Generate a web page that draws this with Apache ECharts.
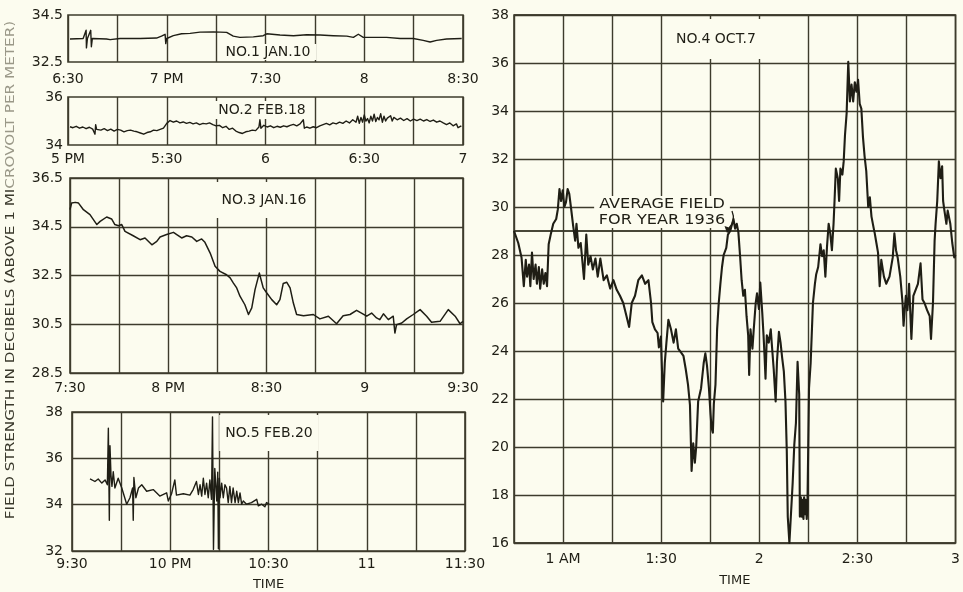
<!DOCTYPE html>
<html>
<head>
<meta charset="utf-8">
<script src="https://cdn.jsdelivr.net/npm/echarts@6/dist/echarts.min.js"></script>
<style>
  html, body { margin: 0; padding: 0; background: #fcfcef; }
  #chart { width: 963px; height: 592px; }
</style>
</head>
<body>
<div id="chart"></div>
<script>
// Field-strength recordings, time in minutes from the left edge of each strip.
const no1Ticks = ['6:30', '7 PM', '7:30', '8', '8:30'];
const no2Ticks = ['5 PM', '5:30', '6', '6:30', '7'];
const no3Ticks = ['7:30', '8 PM', '8:30', '9', '9:30'];
const no5Ticks = ['9:30', '10 PM', '10:30', '11', '11:30'];
// No. 4 starts at 12:45 AM; labelled every half hour from 1 AM
const no4Ticks = ['1 AM', '1:30', '2', '2:30', '3'];

// Average field for the year 1936, across the whole No. 4 strip
const average1936 = [[0, 29.0], [135, 29.0]];

const no1Jan10 = [
  [0.6,33.48],[4.6,33.5],[5.5,33.85],[5.6,33.1],[5.9,33.5],[6.9,33.85],[7.1,33.15],[7.4,33.5],
  [11.7,33.48],[12.8,33.45],[15.8,33.5],[21.9,33.5],[26.9,33.52],[28.4,33.6],[29.5,33.68],
  [29.7,33.28],[30,33.5],[32,33.62],[34.5,33.7],[37.1,33.72],[40.1,33.77],[44.2,33.78],
  [48.2,33.76],[50.2,33.6],[52.2,33.55],[56.3,33.57],[59.3,33.62],[60.4,33.7],[64.4,33.65],
  [68.5,33.62],[72.5,33.66],[76.6,33.65],[80.6,33.62],[84.7,33.6],[86.7,33.55],[88.2,33.68],
  [89.7,33.55],[92.8,33.55],[96.8,33.55],[100.9,33.5],[104.9,33.5],[107.9,33.42],[110,33.35],
  [112,33.42],[115,33.48],[119.6,33.5]
];

const no2Feb18 = [
  [0.6,34.76],[1.5,34.72],[2.5,34.78],[3.5,34.7],[4.5,34.75],[5.5,34.68],[6.5,34.74],[7.5,34.66],
  [8.2,34.45],[8.4,34.85],[8.7,34.65],[10,34.62],[11,34.68],[12,34.6],[13,34.66],[14,34.58],
  [15,34.65],[16,34.62],[17,34.55],[18,34.6],[19,34.62],[20,34.58],[21,34.55],[22,34.5],
  [23,34.45],[24,34.52],[25,34.55],[26,34.62],[27,34.6],[28,34.65],[29,34.7],[30,34.9],
  [31,35.02],[32,34.95],[33,35.0],[34,34.92],[35,34.96],[36,34.9],[37,34.94],[38,34.88],
  [39,34.92],[40,34.85],[41,34.9],[42,34.88],[43,34.92],[44,34.85],[45,34.8],[46,34.82],
  [47,34.72],[48,34.78],[49,34.65],[50,34.7],[51,34.58],[52,34.52],[53,34.48],[54,34.55],
  [55,34.58],[56,34.62],[57,34.6],[58,34.75],[58.3,35.05],[58.6,34.7],[59.5,34.82],[60.5,34.75],
  [61.5,34.8],[62.5,34.72],[63.5,34.78],[64.5,34.74],[65.5,34.8],[66.5,34.76],[67.5,34.82],
  [68.5,34.86],[69.5,34.8],[70.5,34.88],[71.5,35.05],[71.8,34.7],[72.5,34.75],[73.5,34.7],
  [74.5,34.76],[75.5,34.72],[76.5,34.8],[77.5,34.85],[78.5,34.9],[79.5,34.84],[80.5,34.92],
  [81.5,34.88],[82.5,34.95],[83.5,34.9],[84.5,35.0],[85.5,34.92],[86.5,35.05],[87.5,34.95],
  [88,35.2],[88.5,34.9],[89,35.15],[89.5,34.95],[90,35.25],[90.5,35.0],[91,35.1],[91.5,34.92],
  [92,35.2],[92.5,35.0],[93,35.28],[93.5,34.98],[94,35.15],[94.5,35.05],[95,35.3],[95.5,34.95],
  [96,35.2],[96.5,35.0],[97,35.12],[97.5,35.05],[98,35.22],[98.5,35.0],[99,35.15],[100,35.05],
  [101,35.12],[102,35.02],[103,35.1],[104,35.0],[105,35.08],[106,35.02],[107,35.08],[108,35.0],
  [109,35.06],[110,34.98],[111,35.04],[112,34.95],[113,35.0],[114,34.92],[115,34.85],[116,34.92],
  [117,34.8],[118,34.88],[118.5,34.72],[119.5,34.8]
];

const no3Jan16 = [
  [0,35.2],[0.5,35.47],[1.6,35.5],[2.6,35.47],[4.1,35.2],[6.1,35.0],[8.2,34.59],[9.2,34.72],
  [11.2,34.9],[12.7,34.82],[13.7,34.59],[14.8,34.54],[15.8,34.59],[16.8,34.31],[19.3,34.13],
  [21.4,33.97],[22.9,34.04],[25.0,33.76],[26.5,33.9],[27.5,34.08],[29.5,34.18],[31.6,34.27],
  [32.6,34.18],[34.1,34.04],[35.6,34.13],[37.2,34.08],[38.7,33.9],[40.2,34.0],[41.2,33.86],
  [42.8,33.42],[44.3,32.88],[45.8,32.67],[47.8,32.53],[48.9,32.4],[49.9,32.19],[50.9,31.99],
  [51.9,31.65],[53.4,31.3],[54.5,30.9],[55.5,31.17],[56.5,31.92],[57.8,32.6],[59.0,31.99],
  [60.1,31.78],[61.6,31.51],[63.1,31.3],[64.1,31.51],[65.1,32.17],[66.2,32.22],[67.2,31.99],
  [68.2,31.37],[69.2,30.9],[71.3,30.85],[74.3,30.9],[76.3,30.72],[78.9,30.83],[81.4,30.52],
  [83.4,30.85],[85.5,30.9],[87.5,31.07],[89.0,30.96],[90.6,30.83],[92.1,30.96],[93.6,30.76],
  [94.6,30.69],[95.7,30.93],[97.2,30.69],[98.7,30.83],[99.2,30.14],[99.7,30.48],[101.3,30.55],
  [102.8,30.72],[104.8,30.9],[106.9,31.1],[108.9,30.83],[110.4,30.58],[113,30.62],[115.5,31.1],
  [117.6,30.83],[119.1,30.52],[120,30.62]
];

const no5Feb20 = [
  [5.5,35.11],[7.0,35.0],[8.0,35.11],[9.1,34.93],[10.1,35.07],[10.8,34.86],[11.1,37.3],[11.4,33.33],
  [11.6,36.54],[11.9,35.28],[12.2,34.79],[12.6,35.42],[13.1,34.72],[14.1,35.14],[15.2,34.72],
  [16.7,34.02],[17.7,34.3],[18.5,34.72],[18.7,33.33],[18.9,35.17],[19.5,34.3],[20.3,34.72],
  [21.3,34.86],[22.8,34.58],[24.8,34.65],[26.8,34.37],[28.9,34.51],[29.4,34.16],[30.4,34.47],
  [31.4,35.07],[31.9,34.41],[34.0,34.47],[36.0,34.41],[37.0,34.65],[38.0,35.0],[38.6,34.44],
  [39.1,34.86],[39.6,34.37],[40.1,35.14],[40.6,34.44],[41.1,34.93],[41.6,34.3],[42.1,35.07],
  [42.6,34.23],[42.9,37.79],[43.2,32.07],[43.6,35.56],[44.2,34.16],[44.5,35.4],[44.7,32.1],
  [45.0,35.14],[45.2,34.3],[45.7,34.93],[46.2,34.3],[46.7,34.86],[47.2,34.72],[47.7,34.09],
  [48.2,34.79],[48.7,34.09],[49.2,34.72],[49.8,34.09],[50.3,34.58],[50.8,34.09],[51.3,34.51],
  [51.8,34.02],[52.3,34.16],[53.3,34.02],[54.8,34.09],[56.4,34.23],[56.9,33.95],[57.9,34.02],
  [58.9,33.91],[59.4,34.09],[60.2,34.02]
];

const no4Oct7 = [
  [0,29.0],[1.3,28.5],[2.3,27.9],[3.0,26.7],[3.6,27.8],[4.0,27.1],[4.6,27.6],[5.0,26.7],[5.5,28.1],
  [6.0,27.0],[6.6,27.6],[7.0,26.8],[7.6,27.5],[8.0,26.6],[8.6,27.4],[9.1,26.8],[9.6,27.25],
  [10.1,26.7],[10.6,28.45],[11.3,28.9],[12.0,29.3],[12.9,29.5],[13.4,29.9],[13.9,30.75],
  [14.4,30.25],[14.9,30.7],[15.4,30.0],[15.9,30.2],[16.4,30.75],[16.9,30.55],[17.4,30.0],
  [18.1,29.2],[18.7,28.6],[19.1,29.3],[19.7,28.3],[20.4,28.5],[21.4,27.0],[22.1,28.85],
  [22.7,27.6],[23.4,27.95],[24.1,27.4],[24.9,27.85],[25.6,27.1],[26.4,27.85],[27.4,26.95],
  [28.4,27.15],[29.4,26.6],[30.4,26.95],[31.4,26.55],[32.4,26.3],[33.4,26.0],[34.4,25.45],
  [35.2,25.0],[36.0,26.0],[37.0,26.3],[38.0,26.95],[39.1,27.15],[40.1,26.8],[41.1,26.95],
  [41.9,26.0],[42.3,25.2],[43.1,24.9],[43.9,24.75],[44.3,24.15],[44.9,24.6],[45.3,23.0],
  [45.6,21.9],[46.1,23.5],[46.6,24.35],[47.2,25.3],[48.0,24.9],[48.8,24.35],[49.5,24.9],
  [50.2,24.1],[51.0,23.95],[51.8,23.8],[52.5,23.25],[53.2,22.6],[53.8,21.75],[54.3,19.0],
  [54.8,20.15],[55.3,19.35],[55.7,20.0],[56.3,21.9],[57.2,22.45],[58.0,23.5],[58.5,23.9],
  [59.0,23.4],[59.6,22.45],[60.1,21.35],[60.4,20.8],[60.8,20.6],[61.1,21.8],[61.6,22.6],
  [62.1,24.9],[62.6,26.0],[63.1,26.8],[63.6,27.5],[64.1,28.0],[64.9,28.3],[65.4,28.85],
  [66.1,29.0],[67.1,29.5],[67.6,29.1],[68.1,29.3],[68.6,28.95],[69.1,28.0],[69.6,26.95],
  [70.1,26.3],[70.6,26.55],[71.1,25.45],[71.6,24.65],[71.9,23.0],[72.3,24.9],[72.9,24.1],
  [73.3,24.9],[73.9,26.0],[74.3,26.4],[74.9,25.75],[75.3,26.85],[75.9,25.6],[76.3,24.65],
  [76.6,23.8],[76.9,22.85],[77.3,24.65],[77.9,24.35],[78.5,24.9],[78.9,24.15],[79.4,23.25],
  [80.0,21.9],[80.4,23.55],[81.0,24.8],[81.5,24.35],[82.0,23.7],[82.5,23.15],[83.0,21.9],
  [83.4,19.85],[83.7,17.1],[84.2,16.0],[84.7,16.0],[85.2,18.5],[85.7,20.1],[86.2,21.0],
  [86.7,23.55],[87.2,22.2],[87.4,17.1],[87.7,17.9],[88.0,17.1],[88.2,17.8],[88.5,17.0],
  [88.7,17.9],[89.0,17.2],[89.2,17.8],[89.5,17.0],[89.7,17.4],[90.2,22.45],[90.7,23.5],
  [91.4,26.0],[92.0,26.8],[92.4,27.2],[93.0,27.5],[93.7,28.45],[94.2,27.95],[94.7,28.2],
  [95.2,27.1],[95.7,28.35],[96.2,29.3],[96.7,28.9],[97.2,28.2],[97.7,29.3],[98.0,30.25],
  [98.4,31.6],[99.0,31.2],[99.4,30.25],[99.8,31.6],[100.4,31.35],[100.8,31.9],[101.2,33.0],
  [101.7,33.9],[102.2,36.05],[102.7,34.4],[103.2,35.1],[103.7,34.4],[104.2,35.2],[104.7,34.8],
  [105.2,35.3],[105.7,34.3],[106.2,34.1],[106.7,32.9],[107.2,32.1],[107.7,31.5],[108.3,30.0],
  [108.8,30.4],[109.3,29.6],[110.0,29.1],[110.3,28.9],[110.8,28.5],[111.3,28.1],[111.8,26.7],
  [112.3,27.8],[113.1,27.1],[113.8,26.8],[114.8,27.1],[115.8,27.9],[116.3,28.9],[116.8,28.2],
  [117.3,27.9],[118.1,27.1],[118.8,26.0],[119.1,25.05],[119.8,26.3],[120.3,25.7],[120.8,26.8],
  [121.5,24.5],[122.1,26.3],[122.8,26.55],[123.5,26.8],[124.3,27.65],[124.9,26.15],[125.5,26.0],
  [126.3,25.7],[127.1,25.45],[127.5,24.5],[128.1,26.0],[128.6,28.6],[128.9,29.3],[129.4,30.25],
  [129.9,31.9],[130.4,31.2],[130.9,31.7],[131.2,30.25],[131.6,29.85],[132.2,29.3],[132.6,29.85],
  [133.4,29.3],[134.0,28.5],[134.6,27.9],[135,28.0]
];

const PAPER = '#fcfcef';
const INK = '#1f1e15';
const RULE = '#3d3b2c';
const FONT = '"DejaVu Sans", sans-serif';

const chart = echarts.init(document.getElementById('chart'), null, { renderer: 'canvas' });

const grids = [
  { left: 68, top: 15, width: 395, height: 47 },   // No. 1
  { left: 68, top: 97, width: 395, height: 48 },   // No. 2
  { left: 70, top: 178, width: 393, height: 195 }, // No. 3
  { left: 72, top: 412, width: 393, height: 143 }, // No. 5
  { left: 514, top: 15, width: 448, height: 535 }  // No. 4
].map(g => Object.assign({ show: true, borderColor: RULE, borderWidth: 1.6, backgroundColor: 'transparent' }, g));

const labelStyle = { color: INK, fontFamily: FONT, fontSize: 14 };
const split = { show: true, lineStyle: { color: RULE, width: 1.4 } };

function timeAxis(i, ticks, opts) {
  return Object.assign({
    gridIndex: i, type: 'value', min: 0, max: 120, interval: 15,
    axisLine: { show: false }, axisTick: { show: false }, splitLine: split,
    axisLabel: Object.assign({
      margin: 8,
      formatter: v => (v % 30 === 0 ? ticks[v / 30] : '')
    }, labelStyle)
  }, opts || {});
}

function levelAxis(i, min, max, digits, margin, showSplit) {
  return {
    gridIndex: i, type: 'value', min: min, max: max, interval: 2,
    axisLine: { show: false }, axisTick: { show: false },
    splitLine: showSplit ? split : { show: false },
    axisLabel: Object.assign({ margin: margin, formatter: v => v.toFixed(digits) }, labelStyle)
  };
}

function trace(i, data, width) {
  return {
    type: 'line', xAxisIndex: i, yAxisIndex: i, data: data,
    showSymbol: false, silent: true, animation: false, z: 3,
    lineStyle: { color: INK, width: width, join: 'round' }
  };
}

const xAxes = [
  timeAxis(0, no1Ticks, {}),
  timeAxis(1, no2Ticks, {}),
  timeAxis(2, no3Ticks, {}),
  timeAxis(3, no5Ticks, { name: 'TIME', nameLocation: 'middle', nameGap: 27,
    nameTextStyle: { color: INK, fontFamily: FONT, fontSize: 13 } }),
  timeAxis(4, no4Ticks, {
    max: 135,
    name: 'TIME', nameLocation: 'middle', nameGap: 31,
    nameTextStyle: { color: INK, fontFamily: FONT, fontSize: 13 },
    axisLabel: Object.assign({
      margin: 9,
      formatter: v => (v >= 15 && (v - 15) % 30 === 0 ? no4Ticks[(v - 15) / 30] : '')
    }, labelStyle)
  })
];
xAxes[0].axisLabel.margin = 10;
xAxes[1].axisLabel.margin = 7;
xAxes[3].axisLabel.margin = 6;

const avgLevel = average1936[0][1];

const yAxes = [
  levelAxis(0, 32.5, 34.5, 1, 5, false),
  levelAxis(1, 34, 36, 0, 5, false),
  levelAxis(2, 28.5, 36.5, 1, 7, true),
  levelAxis(3, 32, 38, 0, 9, true),
  levelAxis(4, 16, 38, 0, 5, true),
  // Unlabelled companion scale on the No. 4 strip whose one inner rule marks the yearly average
  {
    gridIndex: 4, type: 'value', min: 16, max: 38, interval: avgLevel - 16,
    axisLine: { show: false }, axisTick: { show: false }, axisLabel: { show: false },
    splitLine: { show: true, lineStyle: { color: RULE, width: 1.6 } }
  }
];

const averageSeries = {
  type: 'line', xAxisIndex: 4, yAxisIndex: 4, data: average1936,
  showSymbol: false, silent: true, animation: false, z: 2,
  lineStyle: { color: RULE, width: 1.6 }
};

function caption(text, x, y, pad) {
  return {
    type: 'text', x: x, y: y, z: 50,
    style: {
      text: text, fill: INK, font: '14px ' + FONT,
      align: 'center', verticalAlign: 'middle',
      backgroundColor: PAPER, padding: pad
    }
  };
}

chart.setOption({
  backgroundColor: PAPER,
  animation: false,
  grid: grids,
  xAxis: xAxes,
  yAxis: yAxes,
  series: [
    trace(0, no1Jan10, 1.4),
    trace(1, no2Feb18, 1.4),
    trace(2, no3Jan16, 1.5),
    trace(3, no5Feb20, 1.4),
    averageSeries,
    trace(4, no4Oct7, 2.1)
  ],
  graphic: [
    caption('NO.1 JAN.10', 268, 52, [1, 6]),
    caption('NO.2 FEB.18', 262, 110, [2, 6]),
    caption('NO.3 JAN.16', 264, 200, [11, 6]),
    caption('NO.5 FEB.20', 269, 433, [11, 6]),
    caption('NO.4 OCT.7', 716, 39, [13, 6]),
    {
      type: 'text', x: 662, y: 212, scaleX: 1.15, z: 50,
      style: {
        text: 'AVERAGE FIELD\nFOR YEAR 1936', fill: INK, font: '14px ' + FONT,
        lineHeight: 16, align: 'center', verticalAlign: 'middle',
        backgroundColor: PAPER, padding: [0, 4]
      }
    },
    // curved pointer from the caption to the average rule
    {
      type: 'bezierCurve', z: 51,
      shape: { x1: 732, y1: 211, cpx1: 736, cpy1: 221, x2: 729, y2: 228 },
      style: { stroke: INK, lineWidth: 1.3, fill: null }
    },
    {
      type: 'polygon', z: 51,
      shape: { points: [[724.5, 226], [732, 228.5], [727, 233]] },
      style: { fill: INK }
    },
    {
      type: 'text', x: 11, y: 270, rotation: Math.PI / 2, scaleX: 1.17, z: 50,
      style: {
        text: '{a|FIELD STRENGTH IN DECIBELS (ABOVE 1 MI}{b|CROVOLT PER METER)}',
        align: 'center', verticalAlign: 'middle',
        rich: {
          a: { fill: '#3a392c', font: '13px ' + FONT },
          b: { fill: '#9a9888', font: '13px ' + FONT }
        }
      }
    }
  ]
});
</script>
</body>
</html>
